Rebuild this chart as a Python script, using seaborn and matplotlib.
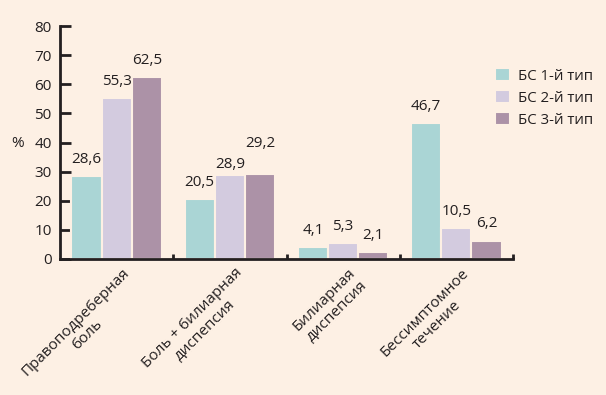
import matplotlib
matplotlib.use("Agg")
import matplotlib.pyplot as plt
import matplotlib.transforms as mtransforms
import pandas as pd
import seaborn as sns

categories = ["Правоподреберная\nболь", "Боль + билиарная\nдиспепсия",
              "Билиарная\nдиспепсия", "Бессимптомное\nтечение"]
series = ["БС 1-й тип", "БС 2-й тип", "БС 3-й тип"]
type1 = [28.6, 20.5, 4.1, 46.7]
type2 = [55.3, 28.9, 5.3, 10.5]
type3 = [62.5, 29.2, 2.1, 6.2]
y_ticks = [0, 10, 20, 30, 40, 50, 60, 70, 80]

colors = ["#A3DCDC", "#D3C8E2", "#B08EAA"]
bg = "#FDF0E4"
ink = "#231F20"

rows = []
for name, vals in zip(series, [type1, type2, type3]):
    for cat, v in zip(categories, vals):
        rows.append({"cat": cat, "series": name, "value": v})
df = pd.DataFrame(rows)

sns.set_style("white")
plt.rcParams["font.family"] = ["Open Sans", "DejaVu Sans"]
plt.rcParams["text.color"] = ink

fig = plt.figure(figsize=(6.06, 3.95), dpi=100, facecolor=bg)
ax = fig.add_axes([60 / 606, 1 - 258.5 / 395, 453 / 606, 232 / 395])
ax.set_facecolor(bg)

sns.barplot(data=df, x="cat", y="value", hue="series", palette=colors,
            width=0.8, edgecolor=bg, linewidth=1.5, ax=ax)

# value labels with decimal comma; the two close ones in group 2 are nudged apart
nudge = {(1, 1): -4.3, (2, 1): 10.0}
for si, cont in enumerate(ax.containers):
    anns = ax.bar_label(cont, labels=[f"{b.get_height():.1f}".replace(".", ",") for b in cont],
                        padding=6.5, fontsize=11, color=ink)
    for ci, a in enumerate(anns):
        if (si, ci) in nudge:
            a.xyann = (0, 6.5 + nudge[(si, ci)])

ax.set_xlim(-0.5, 3.5)
ax.set_ylim(0, 80)
ax.set_yticks(y_ticks)
ax.set_xlabel("")
ax.set_ylabel("")

for s in ["top", "right"]:
    ax.spines[s].set_visible(False)
for s in ["left", "bottom"]:
    ax.spines[s].set_linewidth(2)
    ax.spines[s].set_color(ink)

ax.tick_params(axis="y", direction="in", length=8, width=2, pad=6,
               labelsize=11, colors=ink, left=True)
ax.set_xticks([0.5, 1.5, 2.5, 3.5], minor=True)
ax.tick_params(axis="x", which="minor", direction="in", length=3.5, width=2, color=ink, bottom=True)
ax.tick_params(axis="x", which="major", length=0, pad=5, labelsize=11, labelcolor=ink)

offset = mtransforms.ScaledTranslation(5 / 100, 0, fig.dpi_scale_trans)
for lab in ax.get_xticklabels():
    lab.set_rotation(45)
    lab.set_ha("right")
    lab.set_va("top")
    lab.set_rotation_mode("anchor")
    lab.set_multialignment("center")
    lab.set_transform(lab.get_transform() + offset)

fig.text(18 / 606, 1 - 144 / 395, "%", ha="center", va="center", fontsize=11, color=ink)

handles, labels = ax.get_legend_handles_labels()
ax.legend(handles, labels, loc="upper left", bbox_to_anchor=(495 / 606, 1 - 68 / 395),
          bbox_transform=fig.transFigure, frameon=False, fontsize=10.8,
          handlelength=1.0, handleheight=1.0, handletextpad=0.5, labelspacing=0.4,
          borderpad=0, borderaxespad=0)

fig.savefig("out.png", dpi=100, facecolor=bg)
